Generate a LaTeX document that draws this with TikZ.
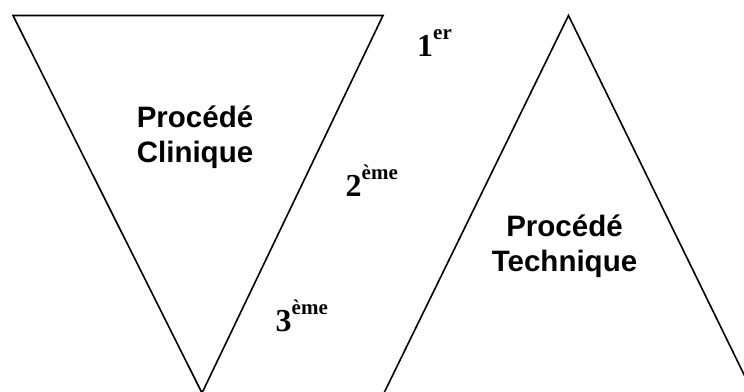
\documentclass[tikz,border=0pt]{standalone}
\usepackage{fontspec}
\setmainfont{Liberation Serif}
\newfontfamily\arialfont{Liberation Sans}
\newcommand{\ordsup}[2]{{\fontsize{32}{32}\selectfont\bfseries #1\raisebox{17.5pt}{\fontsize{21}{21}\selectfont #2}}}
\begin{document}
\begin{tikzpicture}[x=1pt,y=-1pt,
  edge/.style={line width=1.6pt, line join=miter},
  bigtext/.style={font=\arialfont\bfseries\fontsize{29.5}{35.5}\selectfont, align=center, inner sep=0pt},
  ordlabel/.style={anchor=base west, inner sep=0pt}]
\useasboundingbox (0,0) rectangle (744,391);
\clip (0,0) rectangle (744,391);
% inverted triangle
\coordinate (a1) at (13,15.5);
\coordinate (a2) at (383,15.5);
\coordinate (a3) at (202,393);
\draw[edge] (a3) -- (a1) -- (a2) -- cycle;
% upright triangle
\coordinate (b1) at (568.5,15.5);
\coordinate (b2) at (383,395);
\coordinate (b3) at (754,395);
\draw[edge] (b2) -- (b1) -- (b3);
% texts
\node[bigtext] (clin) at (195,137) {Procédé\\Clinique};
\node[bigtext] (tech) at (564.5,246) {Procédé\\Technique};
\node[ordlabel] (o1) at (417,56.7) {\ordsup{1}{er}};
\node[ordlabel] (o2) at (345.5,196.7) {\ordsup{2}{ème}};
\node[ordlabel] (o3) at (275.5,331.7) {\ordsup{3}{ème}};
\end{tikzpicture}
\end{document}
